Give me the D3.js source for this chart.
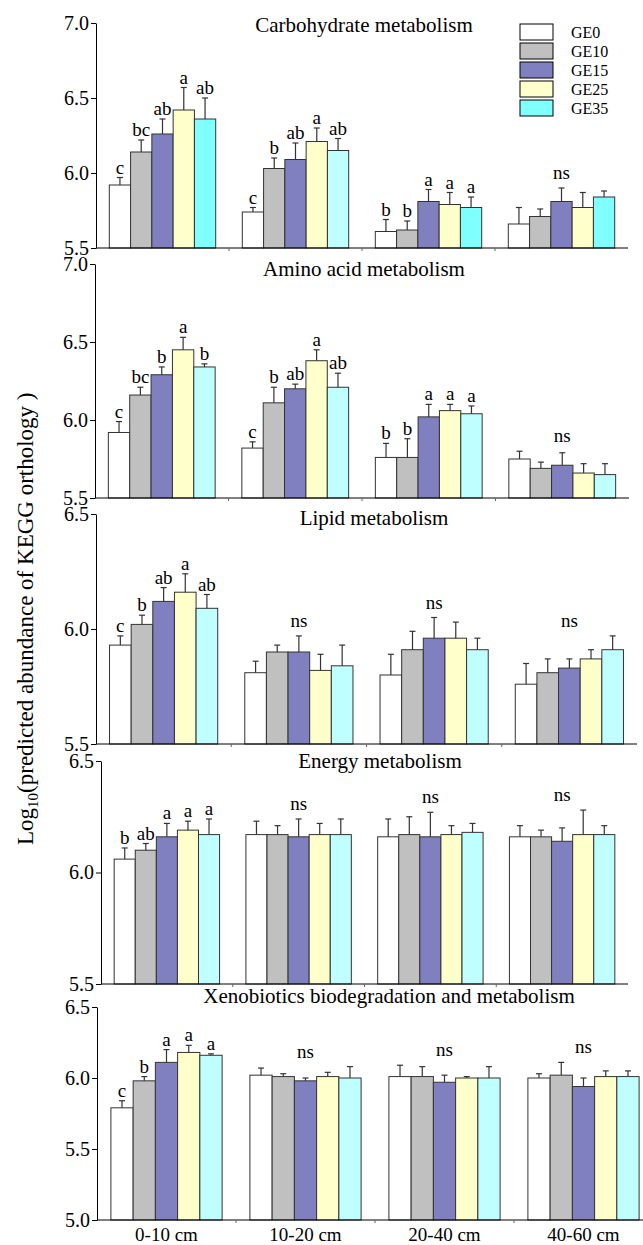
<!DOCTYPE html>
<html>
<head>
<meta charset="utf-8">
<script src="https://cdn.jsdelivr.net/npm/d3@7"></script>
<style>
  body { margin: 0; background: #fff; }
  svg text { font-family: "Liberation Serif", "Times New Roman", serif; fill: #000; }
</style>
</head>
<body>
<div class="chart"></div>
<script>
const svgWidth = 643;
const svgHeight = 1245;
const fontFamily = '"Liberation Serif", "Times New Roman", serif';

// ---- data ----
const depths = ['0-10 cm', '10-20 cm', '20-40 cm', '40-60 cm'];
const treatments = ['GE0', 'GE10', 'GE15', 'GE25', 'GE35'];
const pathways = [
  'Carbohydrate metabolism',
  'Amino acid metabolism',
  'Lipid metabolism',
  'Energy metabolism',
  'Xenobiotics biodegradation and metabolism'
];
const yDomains = [[5.5, 7.0], [5.5, 7.0], [5.5, 6.5], [5.5, 6.5], [5.0, 6.5]];

// rows = depth, columns = treatment
const carbohydrateMeans = [[5.92, 6.14, 6.26, 6.42, 6.36], [5.74, 6.03, 6.09, 6.21, 6.15], [5.61, 5.62, 5.81, 5.79, 5.77], [5.66, 5.71, 5.81, 5.77, 5.84]];
const carbohydrateErrors = [[0.05, 0.08, 0.10, 0.15, 0.14], [0.03, 0.07, 0.11, 0.09, 0.08], [0.08, 0.06, 0.08, 0.08, 0.07], [0.11, 0.05, 0.09, 0.10, 0.04]];
const carbohydrateLetters = [['c', 'bc', 'ab', 'a', 'ab'], ['c', 'b', 'ab', 'a', 'ab'], ['b', 'b', 'a', 'a', 'a'], 'ns'];

const aminoMeans = [[5.92, 6.16, 6.29, 6.45, 6.34], [5.82, 6.11, 6.20, 6.38, 6.21], [5.76, 5.76, 6.02, 6.06, 6.04], [5.75, 5.69, 5.71, 5.66, 5.65]];
const aminoErrors = [[0.07, 0.05, 0.05, 0.08, 0.02], [0.04, 0.10, 0.03, 0.07, 0.09], [0.09, 0.12, 0.08, 0.04, 0.05], [0.05, 0.04, 0.08, 0.06, 0.07]];
const aminoLetters = [['c', 'bc', 'b', 'a', 'b'], ['c', 'b', 'ab', 'a', 'ab'], ['b', 'b', 'a', 'a', 'a'], 'ns'];

const lipidMeans = [[5.93, 6.02, 6.12, 6.16, 6.09], [5.81, 5.90, 5.90, 5.82, 5.84], [5.80, 5.91, 5.96, 5.96, 5.91], [5.76, 5.81, 5.83, 5.87, 5.91]];
const lipidErrors = [[0.04, 0.04, 0.06, 0.08, 0.06], [0.05, 0.03, 0.07, 0.07, 0.09], [0.09, 0.08, 0.09, 0.07, 0.05], [0.09, 0.06, 0.04, 0.04, 0.06]];
const lipidLetters = [['c', 'b', 'ab', 'a', 'ab'], 'ns', 'ns', 'ns'];

const energyMeans = [[6.06, 6.10, 6.16, 6.19, 6.17], [6.17, 6.17, 6.16, 6.17, 6.17], [6.16, 6.17, 6.16, 6.17, 6.18], [6.16, 6.16, 6.14, 6.17, 6.17]];
const energyErrors = [[0.05, 0.03, 0.06, 0.04, 0.07], [0.06, 0.04, 0.08, 0.05, 0.07], [0.08, 0.08, 0.11, 0.04, 0.04], [0.05, 0.03, 0.06, 0.11, 0.04]];
const energyLetters = [['b', 'ab', 'a', 'a', 'a'], 'ns', 'ns', 'ns'];

const xenoMeans = [[5.79, 5.98, 6.11, 6.18, 6.16], [6.02, 6.01, 5.98, 6.01, 6.00], [6.01, 6.01, 5.97, 6.00, 6.00], [6.00, 6.02, 5.94, 6.01, 6.01]];
const xenoErrors = [[0.05, 0.03, 0.09, 0.05, 0.01], [0.05, 0.02, 0.02, 0.03, 0.08], [0.08, 0.07, 0.05, 0.01, 0.08], [0.03, 0.09, 0.06, 0.04, 0.04]];
const xenoLetters = [['c', 'b', 'a', 'a', 'a'], 'ns', 'ns', 'ns'];

const allMeans = [carbohydrateMeans, aminoMeans, lipidMeans, energyMeans, xenoMeans];
const allErrors = [carbohydrateErrors, aminoErrors, lipidErrors, energyErrors, xenoErrors];
const allLetters = [carbohydrateLetters, aminoLetters, lipidLetters, energyLetters, xenoLetters];

// ---- styles / layout ----
const colors = ['#ffffff', '#c0c0c0', '#8080c0', '#ffffcc', '#80ffff'];
const paleCyan = '#c0ffff';
// groups of each panel whose GE35 bar is the saturated cyan
const brightCyanGroups = { 0: [0, 2, 3] };
const strokeColor = '#333';

const layout = [
  { x0: 96, x1: 628, top: 23, bottom: 248, titleX: 364, titleY: 32 },
  { x0: 95, x1: 629, top: 264, bottom: 498, titleX: 364, titleY: 276 },
  { x0: 96, x1: 637, top: 514, bottom: 744, titleX: 374, titleY: 525 },
  { x0: 101, x1: 628, top: 761, bottom: 984, titleX: 380, titleY: 768 },
  { x0: 97, x1: 653, top: 1007, bottom: 1220, titleX: 389, titleY: 1003 }
];

const svg = d3.select('.chart')
  .append('svg')
  .attr('width', svgWidth)
  .attr('height', svgHeight);

function barFill(p, g, s) {
  if (s === 4 && !(brightCyanGroups[p] || []).includes(g)) return paleCyan;
  return colors[s];
}

pathways.forEach((name, p) => {
  const L = layout[p];
  const means = allMeans[p];
  const errors = allErrors[p];
  const letters = allLetters[p];
  const g = svg.append('g');

  const x = d3.scaleBand()
    .domain(depths)
    .range([L.x0, L.x1])
    .paddingInner(0.2)
    .paddingOuter(0.1);
  const xs = d3.scaleBand()
    .domain(treatments)
    .range([0, x.bandwidth()]);
  const y = d3.scaleLinear()
    .domain(yDomains[p])
    .range([L.bottom, L.top]);

  // bars
  depths.forEach((depth, gi) => {
    const grp = g.append('g').attr('transform', `translate(${x(depth)},0)`);
    const rows = treatments.map((t, si) => ({ t, si, v: means[gi][si], e: errors[gi][si] }));

    grp.selectAll('rect')
      .data(rows)
      .enter()
      .append('rect')
      .attr('x', d => xs(d.t))
      .attr('y', d => y(d.v))
      .attr('width', xs.bandwidth())
      .attr('height', d => y(yDomains[p][0]) - y(d.v))
      .attr('fill', d => barFill(p, gi, d.si))
      .attr('stroke', strokeColor)
      .attr('stroke-width', 1);

    // error bars (upper only)
    const eb = grp.selectAll('g.err')
      .data(rows)
      .enter()
      .append('g')
      .attr('class', 'err')
      .attr('stroke', strokeColor)
      .attr('stroke-width', 1.2);
    eb.append('line')
      .attr('x1', d => xs(d.t) + xs.bandwidth() / 2)
      .attr('x2', d => xs(d.t) + xs.bandwidth() / 2)
      .attr('y1', d => y(d.v))
      .attr('y2', d => y(d.v + d.e));
    eb.append('line')
      .attr('x1', d => xs(d.t) + xs.bandwidth() / 2 - 3)
      .attr('x2', d => xs(d.t) + xs.bandwidth() / 2 + 3)
      .attr('y1', d => y(d.v + d.e))
      .attr('y2', d => y(d.v + d.e));

    // significance letters
    const lab = letters[gi];
    if (lab === 'ns') {
      const topY = d3.min(rows, d => y(d.v + d.e));
      grp.append('text')
        .attr('x', x.bandwidth() / 2)
        .attr('y', topY - 9)
        .attr('text-anchor', 'middle')
        .attr('font-size', 19)
        .text('ns');
    } else {
      grp.selectAll('text.sig')
        .data(rows)
        .enter()
        .append('text')
        .attr('class', 'sig')
        .attr('x', d => xs(d.t) + xs.bandwidth() / 2)
        .attr('y', d => y(d.v + d.e) - 4)
        .attr('text-anchor', 'middle')
        .attr('font-size', 19)
        .text(d => lab[d.si]);
    }
  });

  // y axis
  const ticks = d3.range(yDomains[p][0], yDomains[p][1] + 0.01, 0.5);
  const yAxis = g.append('g')
    .attr('transform', `translate(${L.x0},0)`)
    .call(d3.axisLeft(y).tickValues(ticks).tickFormat(d3.format('.1f')).tickSize(5).tickSizeOuter(0).tickPadding(2));
  yAxis.attr('font-family', fontFamily);
  yAxis.selectAll('text').attr('font-size', 20);
  yAxis.selectAll('path, line').attr('stroke', '#000');

  // x axis
  const xAxis = g.append('g')
    .attr('transform', `translate(0,${L.bottom})`)
    .call(d3.axisBottom(x).tickSize(0).tickSizeOuter(0).tickPadding(8));
  xAxis.attr('font-family', fontFamily);
  xAxis.select('path').attr('stroke', '#000').attr('d', `M${L.x0},0H${L.x1}`);
  xAxis.selectAll('text')
    .attr('font-size', 19)
    .style('display', p === pathways.length - 1 ? null : 'none');
  // ticks at group boundaries
  xAxis.selectAll('line.sep')
    .data(depths.slice(1))
    .enter()
    .append('line')
    .attr('class', 'sep')
    .attr('x1', d => x(d) - (x.step() - x.bandwidth()) / 2)
    .attr('x2', d => x(d) - (x.step() - x.bandwidth()) / 2)
    .attr('y1', 0)
    .attr('y2', 3)
    .attr('stroke', '#666');

  // panel title
  g.append('text')
    .attr('x', L.titleX)
    .attr('y', L.titleY)
    .attr('text-anchor', 'middle')
    .attr('font-size', 21)
    .text(name);
});

// legend
const legend = svg.append('g').attr('transform', 'translate(520,24)');
const legendRows = legend.selectAll('g')
  .data(treatments)
  .enter()
  .append('g')
  .attr('transform', (d, i) => `translate(0,${i * 19})`);
legendRows.append('rect')
  .attr('width', 33)
  .attr('height', 16)
  .attr('fill', (d, i) => colors[i])
  .attr('stroke', '#000');
legendRows.append('text')
  .attr('x', 51)
  .attr('y', 14)
  .attr('font-size', 16)
  .text(d => d);

// y axis title
const yTitle = svg.append('text')
  .attr('transform', 'translate(33,845) rotate(-90)')
  .attr('font-size', 23);
yTitle.append('tspan').text('Log');
yTitle.append('tspan').attr('font-size', 15).attr('dy', 5).text('10');
yTitle.append('tspan').attr('dy', -5).text('(predicted abundance of KEGG orthology )');
</script>
</body>
</html>
